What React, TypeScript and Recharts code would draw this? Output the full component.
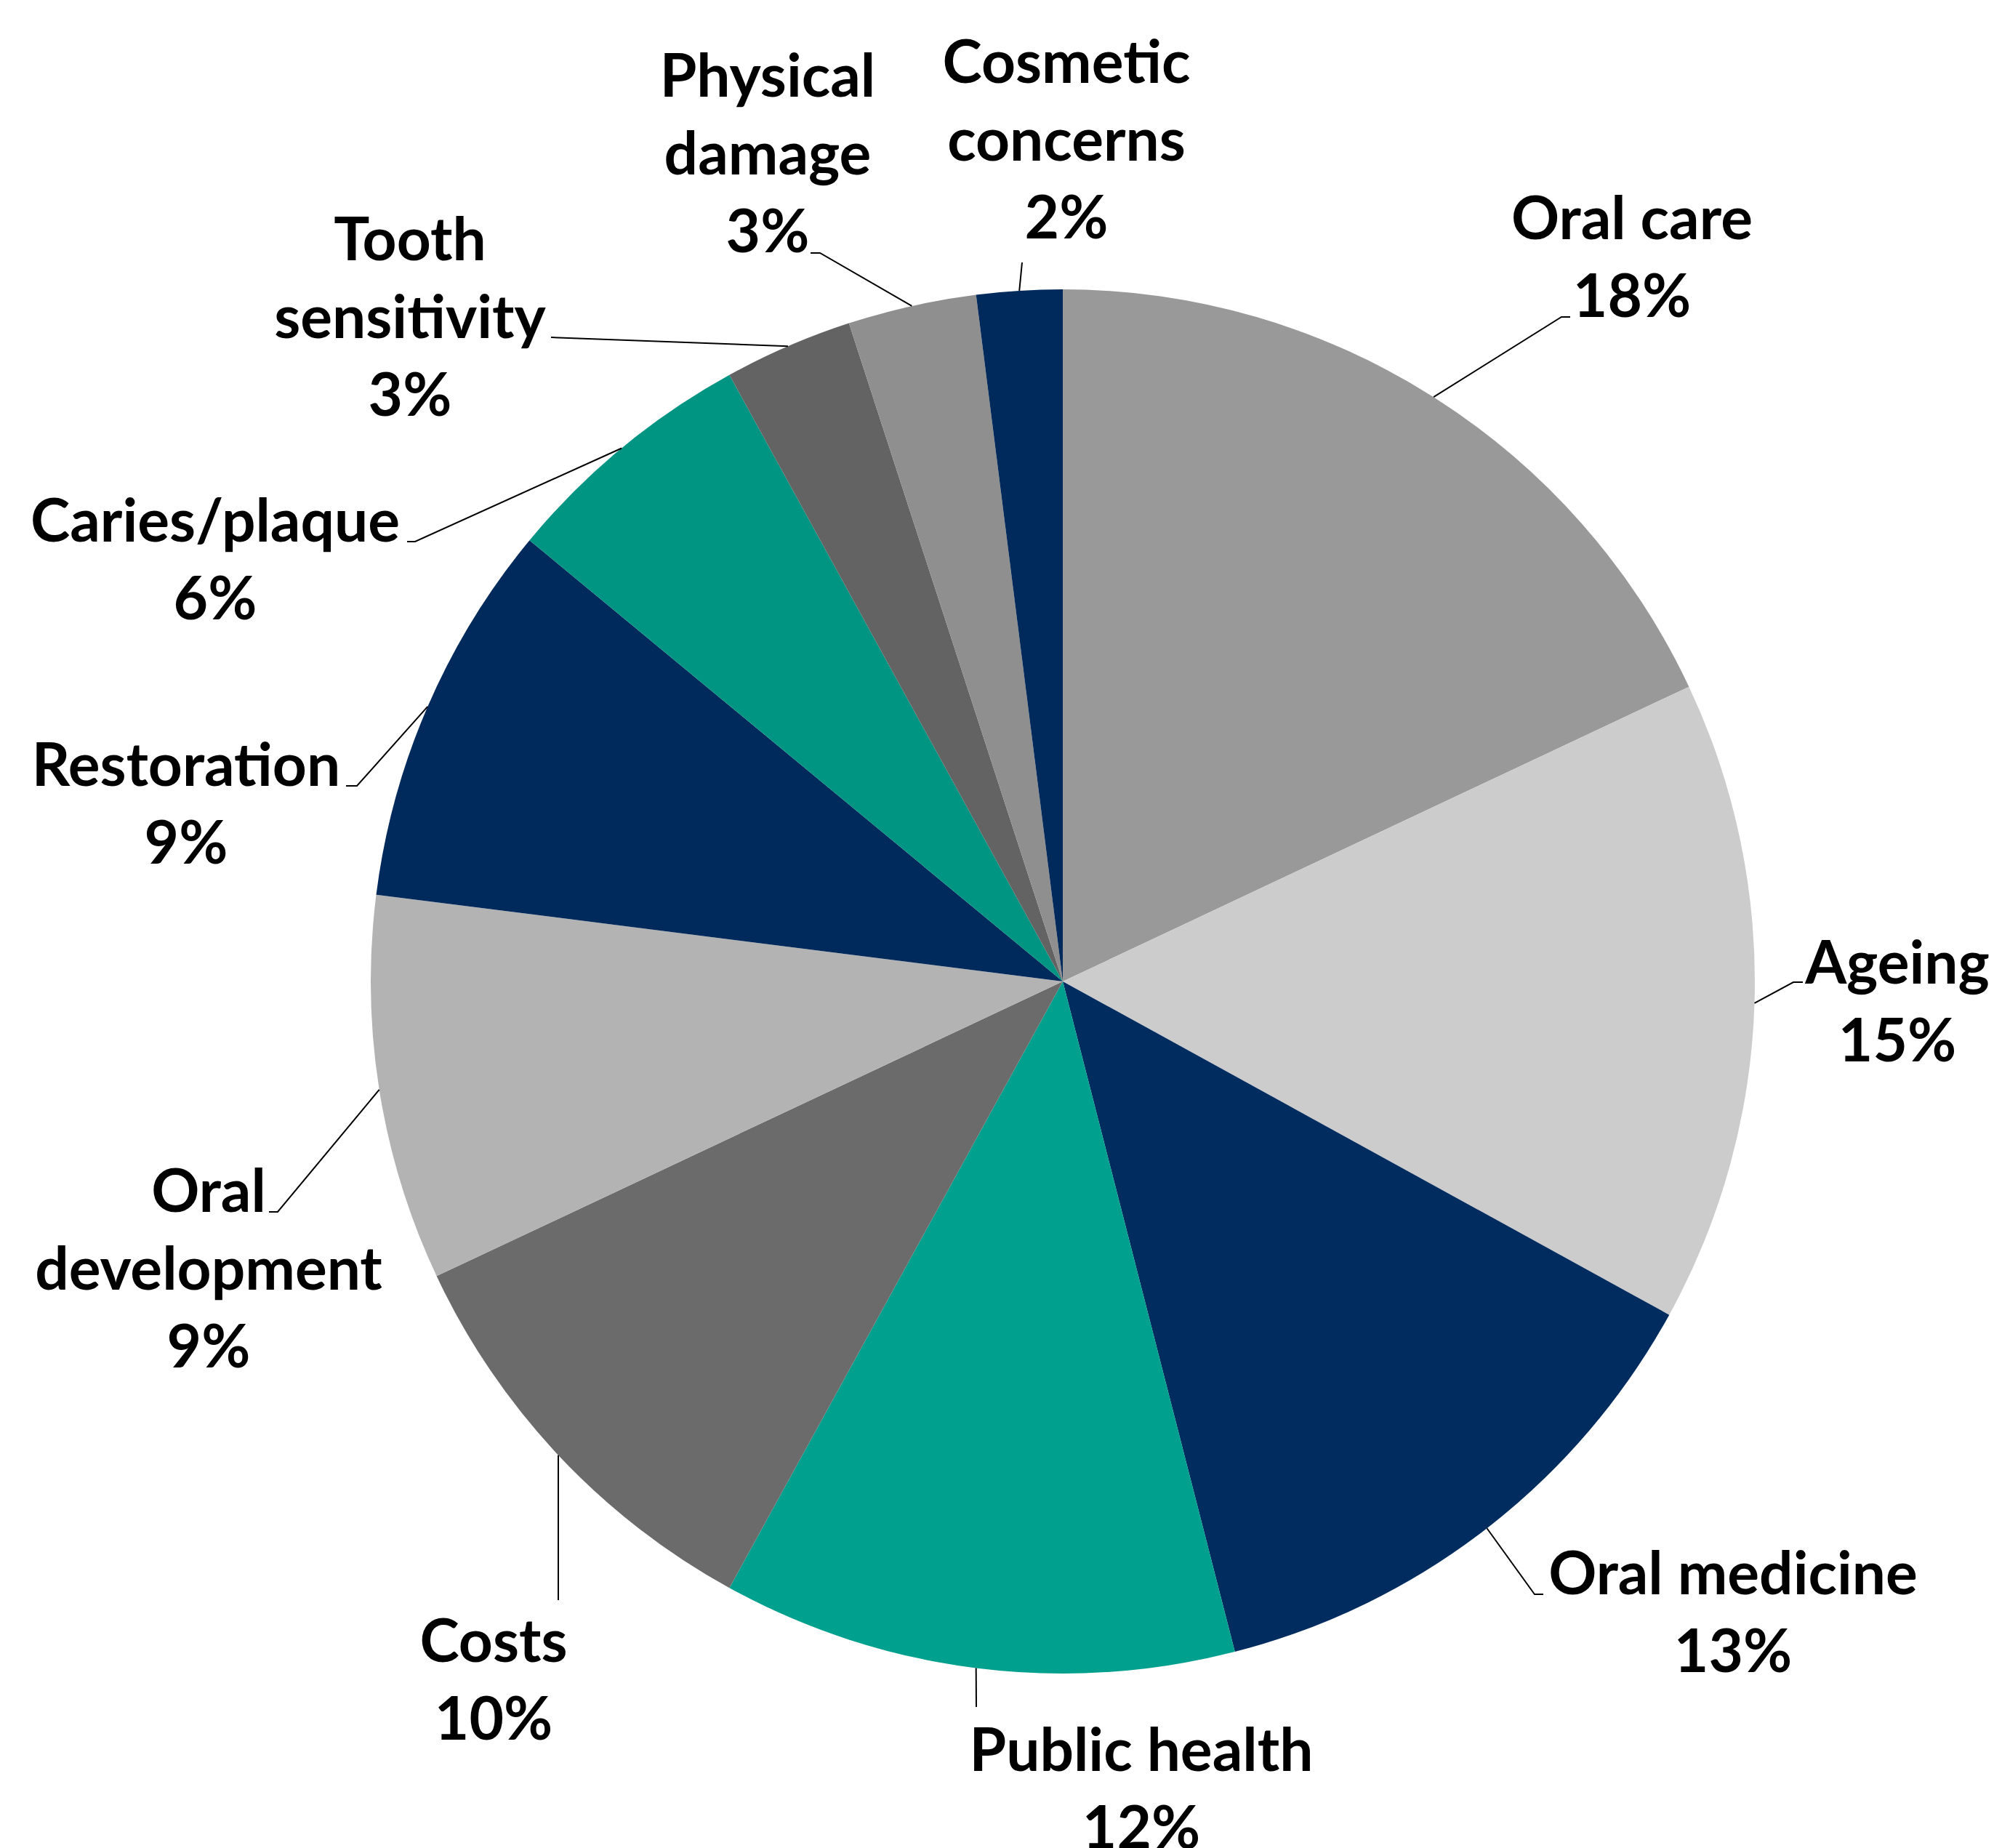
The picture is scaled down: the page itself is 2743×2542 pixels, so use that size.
import React from "react";
import { PieChart, Pie, Cell } from "recharts";

const categories = [
  "Oral care",
  "Ageing",
  "Oral medicine",
  "Public health",
  "Costs",
  "Oral development",
  "Restoration",
  "Caries/plaque",
  "Tooth sensitivity",
  "Physical damage",
  "Cosmetic concerns",
];

const shares = [18, 15, 13, 12, 10, 9, 9, 6, 3, 3, 2];

const colors = [
  "#999999",
  "#cccccc",
  "#002c5f",
  "#00a08e",
  "#6b6b6b",
  "#b3b3b3",
  "#002a5c",
  "#009482",
  "#636363",
  "#8f8f8f",
  "#002a5c",
];

// label text is split into lines the way the reference wraps it
const labelLines = [
  ["Oral care"],
  ["Ageing"],
  ["Oral medicine"],
  ["Public health"],
  ["Costs"],
  ["Oral", "development"],
  ["Restoration"],
  ["Caries/plaque"],
  ["Tooth", "sensitivity"],
  ["Physical", "damage"],
  ["Cosmetic", "concerns"],
];

// label placement relative to the pie centre: text centre x, first baseline y,
// leader elbow and leader end
type LabelLayout = { x: number; y: number; elbow: [number, number]; end: [number, number] };
const labelLayout: LabelLayout[] = [
  { x: 783, y: -1021, elbow: [686, -914], end: [698, -914] },
  { x: 1148, y: 3, elbow: [1005, 1], end: [1018, 1] },
  { x: 922, y: 843, elbow: [649, 843], end: [661, 843] },
  { x: 108, y: 1086, elbow: [-119, 998], end: [-119, 998] },
  { x: -783, y: 936, elbow: [-694, 851], end: [-694, 851] },
  { x: -1175, y: 317, elbow: [-1080, 317], end: [-1092, 317] },
  { x: -1206, y: -269, elbow: [-971, -269], end: [-986, -269] },
  { x: -1166, y: -605, elbow: [-891, -605], end: [-902, -605] },
  { x: -898, y: -992, elbow: [-704, -886], end: [-704, -886] },
  { x: -406, y: -1217, elbow: [-334, -1002], end: [-347, -1002] },
  { x: 5, y: -1236, elbow: [-56, -989], end: [-56, -989] },
];

const data = categories.map((name, i) => ({ name, value: shares[i] }));

const RAD = Math.PI / 180;
const FONT_SIZE = 82;
const LINE_HEIGHT = 107;

function renderLabel(props: any) {
  const { cx, cy, midAngle, outerRadius, index, value } = props;
  const layout = labelLayout[index];
  const ex = cx + outerRadius * Math.cos(-midAngle * RAD);
  const ey = cy + outerRadius * Math.sin(-midAngle * RAD);
  const lines = [...labelLines[index], `${value}%`];
  const pts = [
    [ex, ey],
    [cx + layout.elbow[0], cy + layout.elbow[1]],
    [cx + layout.end[0], cy + layout.end[1]],
  ];
  return (
    <g>
      <polyline
        points={pts.map((p) => p.join(",")).join(" ")}
        fill="none"
        stroke="#000"
        strokeWidth={2}
      />
      <text
        x={cx + layout.x}
        y={cy + layout.y}
        textAnchor="middle"
        fontFamily="Lato, sans-serif"
        fontWeight={700}
        fontSize={FONT_SIZE}
        fill="#000"
      >
        {lines.map((line, i) => (
          <tspan key={i} x={cx + layout.x} y={cy + layout.y + i * LINE_HEIGHT}>
            {line}
          </tspan>
        ))}
      </text>
    </g>
  );
}

export default function App() {
  return (
    <div style={{ position: "absolute", left: 0, top: 0, background: "#fff" }}>
      <PieChart width={2743} height={2542}>
        <Pie
          data={data}
          dataKey="value"
          nameKey="name"
          cx={1457}
          cy={1345}
          outerRadius={952}
          startAngle={90}
          endAngle={-270}
          stroke="none"
          label={renderLabel}
          labelLine={false}
          isAnimationActive={false}
        >
          {data.map((d, i) => (
            <Cell key={d.name} fill={colors[i]} />
          ))}
        </Pie>
      </PieChart>
    </div>
  );
}
